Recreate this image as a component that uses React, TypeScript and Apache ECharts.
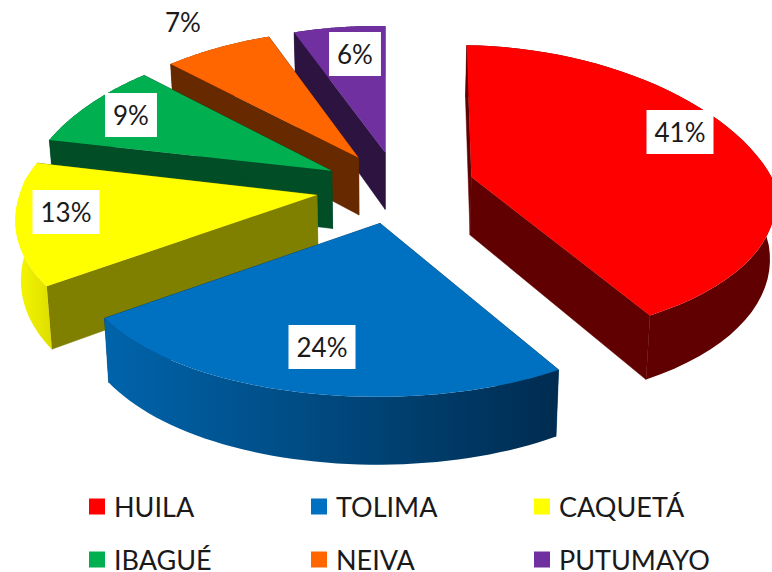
import React, { useEffect, useRef } from "react";
import * as echarts from "echarts";

// Data
const categories = ["HUILA", "TOLIMA", "CAQUETÁ", "IBAGUÉ", "NEIVA", "PUTUMAYO"];
const values = [41, 24, 13, 9, 7, 6];
const percentLabels = ["41%", "24%", "13%", "9%", "7%", "6%"];

// Styles
const topColors = ["#ff0000", "#0070c0", "#ffff00", "#00b050", "#ff6600", "#7030a0"];
const wallColors = ["#600000", "#003a66", "#808000", "#004d26", "#662900", "#2c1340"];
const arcFrom = ["#600000", "#0064ab", "#f8f800", "#004d26", "#662900", "#2c1340"];
const arcTo = ["#600000", "#002c50", "#dede00", "#004d26", "#662900", "#2c1340"];
const widthScale = [1, 1, 0.98, 1, 1, 1];
const drawOrder = [5, 4, 3, 2, 0, 1];
const labelCentersX = [680, 322, 66, 131, 183, 355];
const labelCentersY = [132, 347, 212, 115, 22, 54];
const legendColumns = [
  { left: 89, names: ["HUILA", "IBAGUÉ"] },
  { left: 311, names: ["TOLIMA", "NEIVA"] },
  { left: 534, names: ["CAQUETÁ", "PUTUMAYO"] },
];

// 3D projection settings
const FONT = "Lato, Carlito, sans-serif";
const CENTER_X = 398;
const CENTER_Y = 187;
const EXPLODE_X = 80;
const EXPLODE_V = 0.24;
const RADIUS_X = 302;
const DEPTH_LINEAR = 150;
const DEPTH_CURVE = 16;
const TILT_Y = 4;
const PERSPECTIVE_X = 0.16;
const SHEAR_X = 10;
const VANISH_X = 385;

type Pt = [number, number];
const TOTAL = values.reduce((a, b) => a + b, 0);
const startFractions = values.map((_, i) => values.slice(0, i).reduce((a, b) => a + b, 0) / TOTAL);

function converge(p: Pt): Pt {
  return [VANISH_X + (p[0] - VANISH_X) * (1 + Math.min(p[1] - 180, 0) * 0.0004), p[1]];
}

function screenY(depth: number, side: number) {
  return CENTER_Y + DEPTH_LINEAR * depth + DEPTH_CURVE * depth * depth + TILT_Y * side;
}

function sliceGeometry(i: number) {
  const start = startFractions[i] * 2 * Math.PI;
  const end = start + (values[i] / TOTAL) * 2 * Math.PI;
  const mid = (start + end) / 2;
  const eu = Math.sin(mid);
  const ev = -Math.cos(mid);
  const apexDepth = EXPLODE_V * ev;
  const apexX = CENTER_X + (EXPLODE_X * eu) / (1 - 0.17 * ev);
  const apex: Pt = [apexX, screenY(apexDepth, 0)];
  const onRim = (t: number): Pt => {
    const u = Math.sin(t);
    const v = -Math.cos(t);
    return converge([
      apexX + (widthScale[i] * RADIUS_X * u) / (1 - PERSPECTIVE_X * v) - SHEAR_X * Math.max(v, 0),
      screenY(apexDepth + v, u),
    ]);
  };
  const steps = 48;
  const rim: Pt[] = [];
  for (let s = 0; s <= steps; s++) rim.push(onRim(start + ((end - start) * s) / steps));
  return { apex, rim };
}

function lower(p: Pt): Pt {
  return [VANISH_X + (p[0] - VANISH_X) * 0.985, p[1] + 50 + 0.045 * p[1]];
}

function renderSlice(i: number) {
  return () => {
    const { apex, rim } = sliceGeometry(i);
    const first = rim[0];
    const last = rim[rim.length - 1];
    const solid = wallColors[i];
    const wallStyle = { fill: solid, stroke: solid, lineWidth: 0.5 };
    const wallA = {
      type: "polygon",
      shape: { points: [apex, first, lower(first), lower(apex)] },
      style: wallStyle,
    };
    const wallB = {
      type: "polygon",
      shape: { points: [apex, last, lower(last), lower(apex)] },
      style: wallStyle,
    };
    const arcWall = {
      type: "polygon",
      shape: { points: [...rim, ...rim.map(lower).reverse()] },
      style: {
        fill: new echarts.graphic.LinearGradient(0, 0, 1, 0, [
          { offset: 0, color: arcFrom[i] },
          { offset: 1, color: arcTo[i] },
        ]),
      },
    };
    const nearArc = i === 0 || i === 1 || i === 2;
    const top = {
      type: "polygon",
      shape: { points: [apex, ...rim] },
      style: { fill: topColors[i] },
    };
    const label = {
      type: "text",
      z2: 100,
      style: {
        text: percentLabels[i],
        x: labelCentersX[i],
        y: labelCentersY[i],
        align: "center",
        verticalAlign: "middle",
        fill: "#1a1a1a",
        font: `26px ${FONT}`,
        backgroundColor: "#ffffff",
        padding: [9, 8, 9, 8],
      },
    };
    const children = nearArc ? [wallA, wallB, arcWall, top, label] : [arcWall, wallA, wallB, top, label];
    return { type: "group", children };
  };
}

export default function App() {
  const ref = useRef<HTMLDivElement>(null);
  useEffect(() => {
    const chart = echarts.init(ref.current!, undefined, { renderer: "svg" });
    chart.setOption({
      animation: false,
      backgroundColor: "#ffffff",
      legend: legendColumns.map((c) => ({
        orient: "vertical",
        left: c.left,
        top: 493,
        height: 140,
        padding: 0,
        icon: "rect",
        itemWidth: 16,
        itemHeight: 16,
        itemGap: 26,
        selectedMode: false,
        data: c.names,
        textStyle: { fontFamily: FONT, fontSize: 27, color: "#1a1a1a", padding: [0, 0, 0, 4] },
      })),
      series: categories.map((name, i) => ({
        type: "custom",
        name,
        coordinateSystem: "none",
        silent: true,
        z: 2 + drawOrder.indexOf(i),
        itemStyle: { color: topColors[i] },
        data: [[values[i]]],
        renderItem: renderSlice(i),
      })),
    });
    return () => chart.dispose();
  }, []);
  return <div ref={ref} style={{ position: "absolute", left: 0, top: 0, width: 772, height: 572 }} />;
}
